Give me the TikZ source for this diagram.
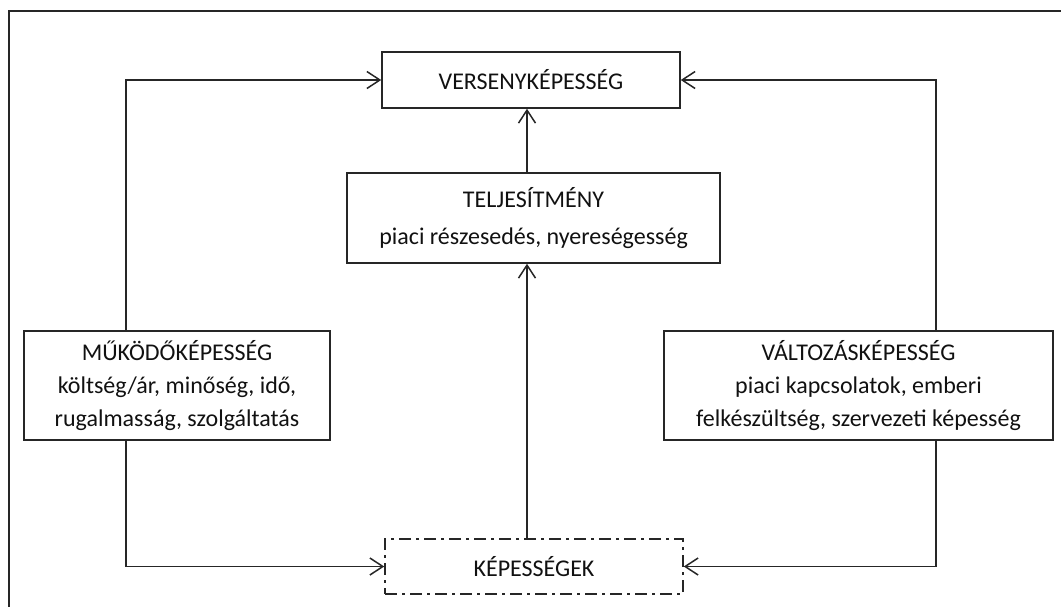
\documentclass[tikz,border=0pt]{standalone}
\usepackage{fontspec}
\setmainfont{Carlito}
\usetikzlibrary{arrows.meta}
\definecolor{ink}{HTML}{262626}
\definecolor{txt}{HTML}{111111}
\tikzset{
  box/.style={draw=ink, line width=1.5pt, rectangle, align=center, text=txt,
    inner sep=0pt, font=\fontsize{24}{33}\selectfont},
  dashbox/.style={box, dash pattern=on 12pt off 5pt on 3pt off 5pt},
  arr/.style={draw=ink, line width=1.5pt, -{Straight Barb[length=13pt,width=17pt,line width=1.5pt]}},
  frame/.style={draw=ink, line width=2pt},
}
\begin{document}
\begin{tikzpicture}[x=1pt,y=-1pt]
\useasboundingbox (0,0) rectangle (1061,606);
\draw[frame] (9,620) -- (9,11) -- (1070,11);

\node[box, minimum width=298pt, minimum height=56pt] (vk) at (531,80) {VERSENYKÉPESSÉG};
\node[box, minimum width=373pt, minimum height=90pt, font=\fontsize{24}{37}\selectfont] (tj) at (533.5,218)
  {TELJESÍTMÉNY\\piaci részesedés, nyereségesség};
\node[box, minimum width=306pt, minimum height=109pt] (mk) at (177,385.5)
  {MŰKÖDŐKÉPESSÉG\\költség/ár, minőség, idő,\\rugalmasság, szolgáltatás};
\node[box, minimum width=389pt, minimum height=109pt] (vt) at (858.5,385.5)
  {VÁLTOZÁSKÉPESSÉG\\piaci kapcsolatok, emberi\\felkészültség, szervezeti képesség};
\node[dashbox, minimum width=298pt, minimum height=55pt] (kp) at (534,566.5) {KÉPESSÉGEK};

\coordinate (cl) at (126,0);
\coordinate (cr) at (936,0);
\coordinate (cm) at (527,0);

\draw[arr] (mk.north -| cl) |- (vk.west);
\draw[arr] (vt.north -| cr) |- (vk.east);
\draw[arr] (tj.north -| cm) -- (vk.south -| cm);
\draw[arr] (kp.north -| cm) -- (tj.south -| cm);
\draw[arr] (mk.south -| cl) |- (kp.west);
\draw[arr] (vt.south -| cr) |- (kp.east);
\end{tikzpicture}
\end{document}
